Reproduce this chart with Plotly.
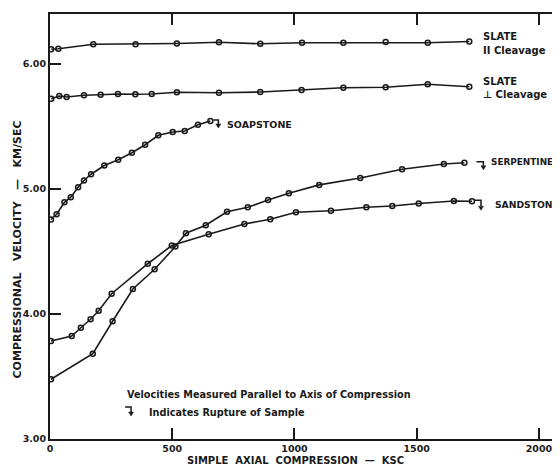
import plotly.graph_objects as go

# compression (KSC) and velocity (km/sec)
slate_par_x = [5, 34, 177, 350, 519, 691, 860, 1031, 1200, 1373, 1545, 1715]
slate_par_y = [6.118, 6.122, 6.158, 6.158, 6.164, 6.174, 6.162, 6.17, 6.17, 6.176, 6.17, 6.18]

slate_perp_x = [5, 38, 68, 139, 207, 278, 349, 416, 519, 691, 860, 1029, 1200, 1373, 1545, 1715]
slate_perp_y = [5.722, 5.744, 5.736, 5.75, 5.754, 5.76, 5.758, 5.76, 5.774, 5.77, 5.776,
                5.792, 5.81, 5.814, 5.838, 5.818]

soap_x = [4, 27, 59, 85, 115, 139, 168, 222, 279, 335, 389, 443, 502, 551, 605, 656]
soap_y = [4.756, 4.798, 4.894, 4.934, 5.014, 5.068, 5.118, 5.188, 5.234, 5.29, 5.354,
          5.43, 5.456, 5.464, 5.514, 5.544]

serp_x = [4, 175, 256, 339, 428, 513, 556, 637, 724, 809, 892, 977, 1101, 1269, 1440, 1611, 1695]
serp_y = [3.478, 3.682, 3.942, 4.2, 4.358, 4.54, 4.646, 4.71, 4.818, 4.854, 4.912, 4.966,
          5.033, 5.088, 5.158, 5.2, 5.21]

sand_x = [4, 89, 126, 166, 199, 252, 400, 498, 649, 795, 901, 1006, 1149, 1294, 1400, 1508, 1652, 1726]
sand_y = [3.784, 3.824, 3.89, 3.958, 4.026, 4.162, 4.402, 4.548, 4.638, 4.72, 4.758, 4.814,
          4.826, 4.854, 4.864, 4.884, 4.904, 4.902]

x_ticks = [0, 500, 1000, 1500, 2000]
y_ticks = [3, 4, 5, 6]
y_tick_text = ['3.00', '4.00', '5.00', '6.00']

INK = '#1a1a1a'
FONT = 'DejaVu Sans'

fig = go.Figure()

for xs, ys in [(slate_par_x, slate_par_y), (slate_perp_x, slate_perp_y), (soap_x, soap_y),
               (serp_x, serp_y), (sand_x, sand_y)]:
    fig.add_trace(go.Scatter(x=xs, y=ys, mode='lines+markers',
                             line=dict(color=INK, width=1.6),
                             marker=dict(symbol='circle-open', size=5, color=INK,
                                         line=dict(width=1.5)),
                             showlegend=False, hoverinfo='skip'))


def rupture(x, y, dx=2, w=6, h=7):
    # hook + down arrow drawn next to the last point of a series
    fig.add_shape(type='path', xref='x', yref='y', xsizemode='pixel', ysizemode='pixel',
                  xanchor=x, yanchor=y,
                  path=f'M {dx},1 L {dx + w},1 L {dx + w},{-h + 3}',
                  line=dict(color=INK, width=1.5))
    fig.add_shape(type='path', xref='x', yref='y', xsizemode='pixel', ysizemode='pixel',
                  xanchor=x, yanchor=y,
                  path=f'M {dx + w - 2.5},{-h + 3} L {dx + w + 2.5},{-h + 3} L {dx + w},{-h - 1} Z',
                  fillcolor=INK, line=dict(color=INK, width=0.5))


rupture(soap_x[-1], soap_y[-1], dx=3, w=5, h=6)
rupture(serp_x[-1], serp_y[-1], dx=12, w=7, h=6)
rupture(sand_x[-1], sand_y[-1], dx=2, w=7, h=8)
rupture(307, 3.248, dx=0, w=6, h=7)

labels = [
    ('SLATE', 1763, 6.224, 10), ('II Cleavage', 1763, 6.112, 10),
    ('SLATE', 1763, 5.864, 10), ('⊥ Cleavage', 1763, 5.76, 10),
    ('SOAPSTONE', 716, 5.52, 9.5), ('SERPENTINE', 1796, 5.216, 8.9),
    ('SANDSTONE', 1810, 4.88, 9.2),
]
for txt, x, y, sz in labels:
    fig.add_annotation(x=x, y=y, text=txt, showarrow=False, xanchor='left', yanchor='middle',
                       font=dict(family=FONT, size=sz, color=INK, weight='bold'))

fig.add_annotation(x=307, y=3.36, text='Velocities Measured Parallel to Axis of Compression',
                   showarrow=False, xanchor='left', yanchor='middle',
                   font=dict(family=FONT, size=9.7, color=INK, weight='bold'))
fig.add_annotation(x=397, y=3.216, text='Indicates Rupture of Sample',
                   showarrow=False, xanchor='left', yanchor='middle',
                   font=dict(family=FONT, size=9.7, color=INK, weight='bold'))

# axis titles as annotations for exact placement
fig.add_annotation(xref='paper', yref='paper', x=0.482, y=0, yshift=-21,
                   text='SIMPLE  AXIAL  COMPRESSION  —  KSC', showarrow=False,
                   xanchor='center', yanchor='middle',
                   font=dict(family=FONT, size=10, color=INK, weight='bold'))
fig.add_annotation(xref='paper', yref='paper', x=0, xshift=-33, y=0.446,
                   text='COMPRESSIONAL   VELOCITY   —   KM/SEC', showarrow=False,
                   textangle=-90, xanchor='center', yanchor='middle',
                   font=dict(family=FONT, size=11, color=INK, weight='bold'))

# page body has an 8px margin, so the figure is 8px smaller and margins shifted
fig.update_layout(
    width=552, height=458,
    margin=dict(l=42, r=0, t=6, b=27),
    paper_bgcolor='white', plot_bgcolor='white',
    font=dict(family=FONT, color=INK),
    xaxis=dict(range=[0, 2086], tickvals=x_ticks, ticks='inside', ticklen=11, tickwidth=2,
               tickcolor=INK, showline=True, linewidth=2, linecolor=INK, mirror='ticks',
               showgrid=False, zeroline=False,
               tickfont=dict(family=FONT, size=9.5, weight='bold')),
    yaxis=dict(range=[3, 6.4], tickvals=y_ticks, ticktext=y_tick_text, ticks='inside',
               ticklen=11, tickwidth=2, tickcolor=INK, showline=True, linewidth=2,
               linecolor=INK, showgrid=False, zeroline=False,
               tickfont=dict(family=FONT, size=9.5, weight='bold')),
    yaxis2=dict(range=[3, 6.4], overlaying='y', side='right', tickvals=[4, 5, 6],
                ticks='inside', ticklen=8, tickwidth=2, tickcolor=INK,
                showticklabels=False, showline=False, showgrid=False, zeroline=False),
)
# invisible trace so the right-hand tick axis is drawn
fig.add_trace(go.Scatter(x=[0], y=[3], yaxis='y2', mode='markers',
                         marker=dict(opacity=0), showlegend=False, hoverinfo='skip'))

fig.write_html('out.html')
